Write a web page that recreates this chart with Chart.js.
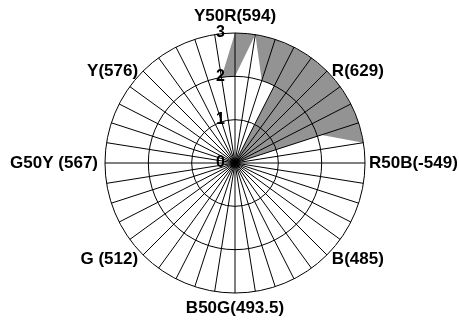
<!DOCTYPE html>
<html>
<head>
<meta charset="utf-8">
<script src="https://cdn.jsdelivr.net/npm/chart.js@4/dist/chart.umd.min.js"></script>
<style>
  body { margin: 0; background: #fff; }
  canvas { display: block; }
</style>
</head>
<body>
<canvas id="hueChart" width="459" height="324"></canvas>
<script>
// 40 hue steps round the circle, only every 5th one is named
const hueLabels = [
  'Y50R(594)', '', '', '', '', 'R(629)', '', '', '', '',
  'R50B(-549)', '', '', '', '', 'B(485)', '', '', '', '',
  'B50G(493.5)', '', '', '', '', 'G (512)', '', '', '', '',
  'G50Y (567)', '', '', '', '', 'Y(576)', '', '', '', ''
];
// grey series (drawn first)
const outerValues = [
  3, 3, 3, 3, 3, 3, 3, 3, 3, 3,
  0, 0, 0, 0, 0, 0, 0, 0, 0, 0,
  0, 0, 0, 0, 0, 0, 0, 0, 0, 0,
  0, 0, 0, 0, 0, 0, 0, 0, 0, 2
];
// white series (drawn over the grey one)
const innerValues = [
  2, 3, 2, 2, 0, 0, 0, 0, 2.1, 3,
  0, 0, 0, 0, 0, 0, 0, 0, 0, 0,
  0, 0, 0, 0, 0, 0, 0, 0, 0, 0,
  0, 0, 0, 0, 0, 0, 0, 0, 0, 2
];
const tickValues = [0, 1, 2, 3];

const FONT = 'Arial, "Liberation Sans", sans-serif';

// tick numbers left of the vertical axis + hue names round the circle
const labelPlugin = {
  id: 'labelPlugin',
  afterDraw(chart) {
    const r = chart.scales.r;
    const ctx = chart.ctx;
    ctx.save();
    ctx.fillStyle = '#000';
    ctx.textBaseline = 'middle';

    ctx.font = 'bold 16px ' + FONT;
    ctx.textAlign = 'right';
    tickValues.forEach(v => {
      const y = r.yCenter - r.getDistanceFromCenterForValue(v);
      ctx.fillText(String(v), r.xCenter - 10, y);
    });

    ctx.font = 'bold 17px ' + FONT;
    hueLabels.forEach((txt, i) => {
      if (!txt) return;
      const a = r.getIndexAngle(i);
      const s = Math.sin(a), c = Math.cos(a);
      // right-hand label sits a bit closer so it stays inside the canvas
      const gap = (s > 0.99) ? 4 : 7;
      const p = r.getPointPosition(i, r.drawingArea + gap);
      let dy = 0;
      if (Math.abs(s) < 0.01) {
        ctx.textAlign = 'center';
        dy = c > 0 ? -10 : 8;
      } else {
        ctx.textAlign = s > 0 ? 'left' : 'right';
        if (c > 0.01) dy = 5;
        else if (c < -0.01) dy = -1;
      }
      ctx.fillText(txt, p.x, p.y + dy);
    });
    ctx.restore();
  }
};

new Chart(document.getElementById('hueChart'), {
  type: 'radar',
  data: {
    labels: hueLabels,
    datasets: [
      {
        label: 'inner',
        data: innerValues,
        order: 0,
        fill: true,
        backgroundColor: '#ffffff',
        borderColor: 'rgba(0,0,0,0)',
        borderWidth: 1,
        pointRadius: 0
      },
      {
        label: 'outer',
        data: outerValues,
        order: 1,
        fill: true,
        backgroundColor: '#939393',
        borderColor: 'rgba(0,0,0,0)',
        borderWidth: 1,
        pointRadius: 0
      }
    ]
  },
  options: {
    responsive: false,
    devicePixelRatio: 1,
    animation: false,
    layout: { padding: { left: 105, right: 94, top: 33, bottom: 31 } },
    plugins: {
      legend: { display: false },
      tooltip: { enabled: false }
    },
    elements: { line: { tension: 0 } },
    scales: {
      r: {
        min: 0,
        max: 3,
        ticks: { stepSize: 1, display: false },
        grid: { circular: true, color: '#000', lineWidth: 1, z: 1 },
        angleLines: { color: '#000', lineWidth: 1 },
        pointLabels: { display: false }
      }
    }
  },
  plugins: [labelPlugin]
});
</script>
</body>
</html>
